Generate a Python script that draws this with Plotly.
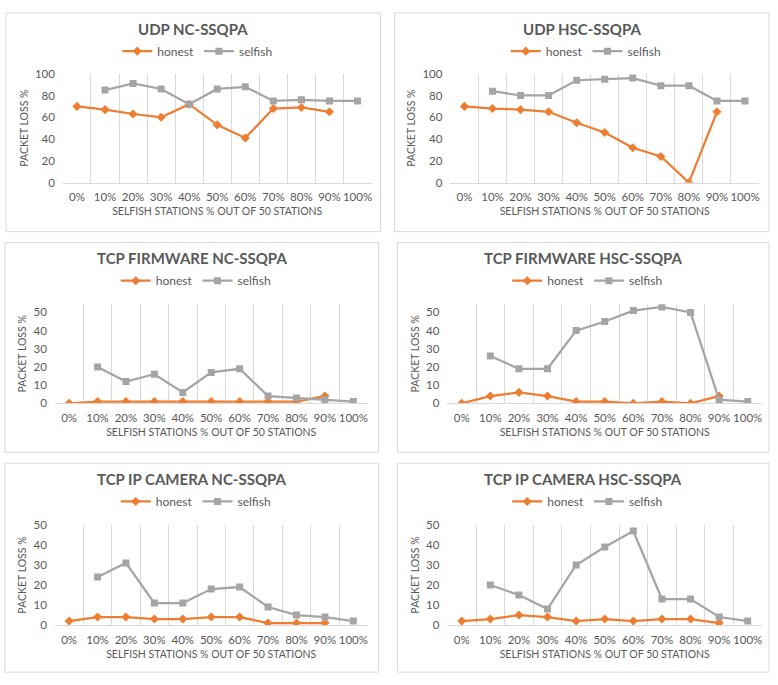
import plotly.graph_objects as go
from plotly.subplots import make_subplots

W, H = 778, 685

categories = ["0%", "10%", "20%", "30%", "40%", "50%", "60%", "70%", "80%", "90%", "100%"]

udp_nc_honest = [70, 67, 63, 60, 72, 53, 41, 68, 69, 65, None]
udp_nc_selfish = [None, 85, 91, 86, 72, 86, 88, 75, 76, 75, 75]

udp_hsc_honest = [70, 68, 67, 65, 55, 46, 32, 24, 0, 65, None]
udp_hsc_selfish = [None, 84, 80, 80, 94, 95, 96, 89, 89, 75, 75]

fw_nc_honest = [0, 1, 1, 1, 1, 1, 1, 1, 1, 4, None]
fw_nc_selfish = [None, 20, 12, 16, 6, 17, 19, 4, 3, 2, 1]

fw_hsc_honest = [0, 4, 6, 4, 1, 1, 0, 1, 0, 4, None]
fw_hsc_selfish = [None, 26, 19, 19, 40, 45, 51, 53, 50, 2, 1]

cam_nc_honest = [2, 4, 4, 3, 3, 4, 4, 1, 1, 1, None]
cam_nc_selfish = [None, 24, 31, 11, 11, 18, 19, 9, 5, 4, 2]

cam_hsc_honest = [2, 3, 5, 4, 2, 3, 2, 3, 3, 1, None]
cam_hsc_selfish = [None, 20, 15, 8, 30, 39, 47, 13, 13, 4, 2]

titles = ["UDP NC-SSQPA", "UDP HSC-SSQPA",
          "TCP FIRMWARE NC-SSQPA", "TCP FIRMWARE HSC-SSQPA",
          "TCP IP CAMERA NC-SSQPA", "TCP IP CAMERA HSC-SSQPA"]

honest_all = [udp_nc_honest, udp_hsc_honest, fw_nc_honest, fw_hsc_honest, cam_nc_honest, cam_hsc_honest]
selfish_all = [udp_nc_selfish, udp_hsc_selfish, fw_nc_selfish, fw_hsc_selfish, cam_nc_selfish, cam_hsc_selfish]

y_max = [100, 100, 54.5, 54.5, 50, 50]
y_ticks = [[0, 20, 40, 60, 80, 100], [0, 20, 40, 60, 80, 100],
           [0, 10, 20, 30, 40, 50], [0, 10, 20, 30, 40, 50],
           [0, 10, 20, 30, 40, 50], [0, 10, 20, 30, 40, 50]]

# panel frames (left, top, right, bottom) in pixels
boxes = [(6, 6, 381, 229), (395, 6, 770, 229),
         (5, 240, 379, 454), (398, 240, 770, 454),
         (5, 465, 379, 678), (398, 465, 770, 678)]
# plot areas (left, top, right, bottom) in pixels
plots = [(63, 68, 372, 179), (451, 68, 760, 179),
         (55, 303, 368, 404), (448, 303, 763, 404),
         (55, 528, 368, 630), (448, 528, 763, 630)]

GREY_TXT = "#595959"
ORANGE = "#ED7D31"
GREY = "#A5A5A5"
FONT = "Lato"

fig = make_subplots(rows=3, cols=2)

for i in range(6):
    r, c = i // 2 + 1, i % 2 + 1
    leg = "legend" if i == 0 else "legend%d" % (i + 1)
    fig.add_trace(go.Scatter(x=categories, y=honest_all[i], name="honest", mode="lines+markers",
                             line=dict(color=ORANGE, width=2.25),
                             marker=dict(symbol="diamond", size=7, color=ORANGE),
                             legend=leg), row=r, col=c)
    fig.add_trace(go.Scatter(x=categories, y=selfish_all[i], name="selfish", mode="lines+markers",
                             line=dict(color=GREY, width=2.25),
                             marker=dict(symbol="square", size=7, color=GREY),
                             legend=leg), row=r, col=c)

    bl, bt, br, bb = boxes[i]
    pl, pt, pr, pb = plots[i]
    fig.update_xaxes(domain=[pl / W, pr / W], type="category", tickson="boundaries",
                     showgrid=True, gridcolor="#d9d9d9", gridwidth=1,
                     showline=True, linecolor="#d9d9d9", ticks="", tickangle=0,
                     range=[-0.5, 10.5], ticklabelstandoff=4,
                     tickfont=dict(family=FONT, size=11.5, color=GREY_TXT),
                     title=dict(text="SELFISH STATIONS % OUT OF 50 STATIONS",
                                font=dict(family=FONT, size=10.5, color=GREY_TXT), standoff=5),
                     row=r, col=c)
    fig.update_yaxes(domain=[1 - pb / H, 1 - pt / H], range=[0, y_max[i]],
                     tickvals=y_ticks[i], showgrid=False, zeroline=False, showline=False,
                     ticklabelstandoff=7,
                     tickfont=dict(family=FONT, size=11.5, color=GREY_TXT),
                     title=dict(text="PACKET LOSS %",
                                font=dict(family=FONT, size=10.5, color=GREY_TXT), standoff=4),
                     row=r, col=c)

    fig.add_shape(type="rect", xref="paper", yref="paper",
                  x0=bl / W, x1=br / W, y0=1 - bb / H, y1=1 - bt / H,
                  line=dict(color="#d9d9d9", width=1), fillcolor="rgba(0,0,0,0)")
    cx = (bl + br) / 2
    fig.add_annotation(text="<b>" + titles[i] + "</b>", xref="paper", yref="paper",
                       x=cx / W, y=1 - (bt + 16) / H, showarrow=False,
                       xanchor="center", yanchor="middle",
                       font=dict(family=FONT, size=15, color=GREY_TXT))
    fig.update_layout({leg: dict(orientation="h", x=(cx + 4) / W, y=1 - (bt + 39) / H,
                                 xanchor="center", yanchor="middle",
                                 font=dict(family=FONT, size=12, color=GREY_TXT),
                                 itemwidth=30, tracegroupgap=0, bgcolor="rgba(0,0,0,0)")})

fig.update_layout(width=W, height=H, margin=dict(l=0, r=0, t=0, b=0),
                  paper_bgcolor="white", plot_bgcolor="white", showlegend=True)

# strip page margins so the figure sits exactly in the 778x685 window
page_css = ("document.documentElement.style.margin='0';"
            "document.documentElement.style.overflow='hidden';"
            "document.body.style.margin='0';"
            "document.body.style.padding='0';"
            "document.body.style.overflow='hidden';")
fig.write_html("out.html", post_script=page_css, config={"displayModeBar": False})
